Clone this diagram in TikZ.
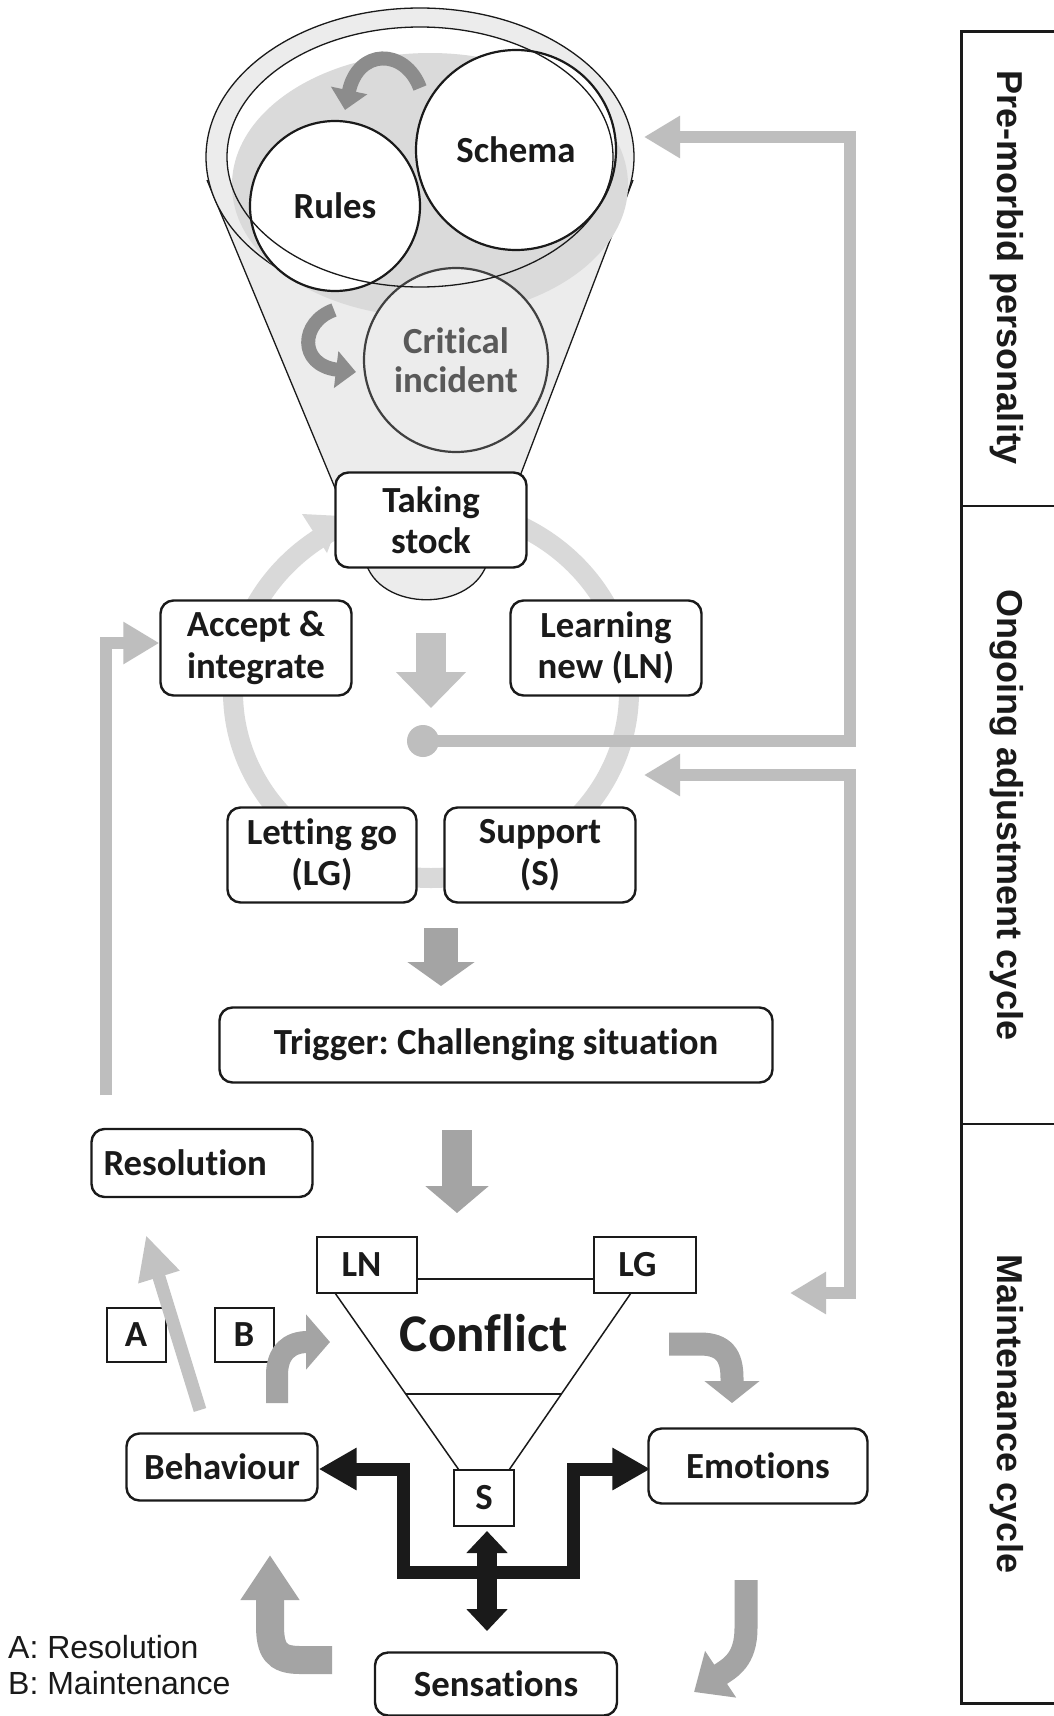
\documentclass[tikz,border=0pt]{standalone}
\usepackage{fontspec}
\setmainfont{Carlito}[Ligatures=NoCommon]
\newfontfamily\arialfont{Liberation Sans}
\usetikzlibrary{arrows.meta}
\definecolor{ink}{HTML}{1A1A1A}
\definecolor{ringgray}{HTML}{D9D9D9}
\definecolor{conngray}{HTML}{BEBEBE}
\definecolor{bodygray}{HTML}{ECECEC}
\definecolor{shadegray}{HTML}{DADADA}
\definecolor{midgray}{HTML}{A4A4A4}
\definecolor{lightarr}{HTML}{C2C2C2}
\definecolor{funarr}{HTML}{8C8C8C}
\definecolor{critgray}{HTML}{595959}
\definecolor{critline}{HTML}{404040}
\tikzset{
  conntip/.tip={Triangle[width=40pt,length=36pt]},
  blktip/.tip={Triangle[width=40pt,length=38pt]},
  dbltip/.tip={Triangle[width=40pt,length=22pt]}
}
\begin{document}
\begin{tikzpicture}[x=1pt,y=-1pt,
  txt/.style={text=ink,font=\frenchspacing\bfseries\fontsize{36.8}{41.5}\selectfont},
  box/.style={txt,draw=ink,line width=2.4pt,rounded corners=13pt,fill=white,align=center,inner sep=0pt},
  sqbox/.style={txt,draw=ink,line width=2pt,fill=white,inner sep=0pt},
  circ/.style={txt,circle,draw=ink,line width=2.2pt,fill=white,inner sep=0pt,align=center},
  conn/.style={draw=conngray,line width=12pt},
  blk/.style={draw=ink,line width=13pt},
  paneltxt/.style={text=ink,font=\arialfont\bfseries\fontsize{36}{40}\selectfont,rotate=-90},
  legend/.style={text=ink,font=\arialfont\fontsize{32}{36}\selectfont,anchor=west,inner sep=0pt}
]
\fill[white] (0,0) rectangle (1053,1716);
\useasboundingbox (0,0) rectangle (1053,1716);

% ---------- adjustment ring ----------
\draw[draw=ringgray,line width=20pt] (431,692) ellipse [x radius=198,y radius=186];
\fill[ringgray] (341,516) -- (327,553) -- (302,514) -- cycle;

% ---------- funnel ----------
\draw[fill=bodygray,draw=ink,line width=1.3pt] (207,180) -- (365,560) .. controls (378,613) and (475,613) .. (488,560) -- (633,180);
\draw[fill=bodygray,draw=ink,line width=1.3pt] (420,157) ellipse [x radius=214,y radius=149];
\fill[white] (420,157) ellipse [x radius=193,y radius=130];
\fill[shadegray] (430,185) ellipse [x radius=198,y radius=132];

\node[circ,minimum size=170pt] (rules) at (335,206) {Rules};
\node[circ,minimum size=200pt] (schema) at (516,150) {Schema};
\node[circ,minimum size=184pt,fill=bodygray,draw=critline,text=critgray,font=\bfseries\fontsize{36.8}{39.5}\selectfont] (crit) at (456,360) {Critical\\incident};
\draw[ink,line width=1.3pt] (420,157) ellipse [x radius=193,y radius=130];

\draw[draw=funarr,line width=14pt,-{Triangle[width=36pt,length=20pt]}] (420,88) .. controls (405,48) and (358,48) .. (345,110);
\draw[draw=funarr,line width=14pt,-{Triangle[width=36pt,length=20pt]}] (334,310) .. controls (300,322) and (298,365) .. (356,372);

% ---------- ongoing adjustment boxes ----------
\node[box,minimum width=191pt,minimum height=95pt] (ts) at (431,520) {Taking\\stock};
\node[box,minimum width=191pt,minimum height=95pt] (acc) at (256,648) {Accept \&\\integrate};
\node[box,minimum width=191pt,minimum height=95pt] (learn) at (606,648) {Learning\\new (LN)};
\node[box,minimum width=189pt,minimum height=95pt] (letgo) at (322,855) {Letting go\\(LG)};
\node[box,minimum width=191pt,minimum height=95pt] (supp) at (540,855) {Support\\(S)};
\node[box,minimum width=553pt,minimum height=75pt] (trig) at (496,1045) {Trigger: Challenging situation};
\node[box,minimum width=221pt,minimum height=68pt,text width=197pt,align=left] (res) at (202,1163) {Resolution};

% central arrows
\coordinate (a1s) at (431,633); \coordinate (a1e) at (431,708);
\draw[draw=lightarr,line width=30pt,-{Triangle[width=68pt,length=36pt]}] (a1s) -- (a1e);
\coordinate (a2s) at (441,928); \coordinate (a2e) at (441,986);
\draw[draw=midgray,line width=34pt,-{Triangle[width=66pt,length=24pt]}] (a2s) -- (a2e);
\coordinate (a3s) at (457,1130); \coordinate (a3e) at (457,1213);
\draw[draw=midgray,line width=30pt,-{Triangle[width=62pt,length=27pt]}] (a3s) -- (a3e);

% ---------- feedback connectors ----------
\node[circle,fill=conngray,minimum size=32pt,inner sep=0pt] (dot) at (423,741) {};
\coordinate (c1a) at (850,741); \coordinate (c1b) at (850,137); \coordinate (c1t) at (644,137);
\draw[conn,-conntip] (dot.center) -- (c1a) -- (c1b) -- (c1t);
\coordinate (c2t) at (644,775); \coordinate (c2a) at (850,775); \coordinate (c2b) at (850,1293); \coordinate (c2e) at (790,1293);
\draw[conn,conntip-conntip] (c2t) -- (c2a) -- (c2b) -- (c2e);
\coordinate (c3s) at (106,1095); \coordinate (c3a) at (106,643);
\draw[conn,-conntip] (c3s) -- (c3a) -- (acc.west |- c3a);

% ---------- conflict ----------
\node[sqbox,minimum width=100pt,minimum height=56pt] (ln) at (367,1265) {\hspace*{-11pt}LN};
\node[sqbox,minimum width=102pt,minimum height=56pt] (lg) at (645,1265) {\hspace*{-15pt}LG};
\node[sqbox,minimum width=60pt,minimum height=56pt] (s) at (484,1498) {S};
\coordinate (t1) at (335,1293); \coordinate (t2) at (459,1470);
\coordinate (t3) at (631,1293); \coordinate (t4) at (509,1470);
\draw[ink,line width=1.5pt] (t1) -- (t2) (t3) -- (t4);
\draw[ink,line width=1.5pt] (406,1394) -- (561,1394);
\draw[ink,line width=1.5pt] (ln.east |- 0,1279) -- (lg.west |- 0,1279);
\node[text=ink,font=\bfseries\fontsize{53}{60}\selectfont] (conf) at (484,1333) {Conflict};

\node[sqbox,minimum width=59pt,minimum height=54pt] (A) at (136,1335) {A};
\node[sqbox,minimum width=59pt,minimum height=54pt] (B) at (244,1335) {B};

% ---------- maintenance boxes ----------
\node[box,minimum width=191pt,minimum height=67pt] (beh) at (222,1467) {Behaviour};
\node[box,minimum width=219pt,minimum height=75pt] (emo) at (758,1466) {Emotions};
\node[box,minimum width=242pt,minimum height=63pt] (sens) at (496,1684) {Sensations};

% black arrows
\coordinate (bl1) at (403,1469); \coordinate (bl2) at (403,1572);
\coordinate (br2) at (573,1572); \coordinate (br1) at (573,1469);
\draw[blk,line join=miter,blktip-blktip] (beh.east |- bl1) -- (bl1) -- (bl2) -- (br2) -- (br1) -- ([xshift=3pt]emo.west |- br1);
\draw[blk,line width=20pt,dbltip-dbltip] ([yshift=-4pt]s.south -| 487,0) -- (487,1631);

% gray maintenance arrows
\draw[draw=lightarr,line width=13pt,-{Triangle[width=40pt,length=44pt]}] (200,1410) -- (146,1235);
\draw[draw=midgray,line width=22pt,-{Triangle[width=54pt,length=24pt]}] (277,1403) -- (277,1375) .. controls (277,1352) and (290,1342) .. (330,1342);
\draw[draw=midgray,line width=23pt,-{Triangle[width=54pt,length=22pt]}] (669,1344) -- (700,1344) .. controls (724,1344) and (732,1356) .. (732,1378) -- (732,1403);
\draw[draw=midgray,line width=23pt,-{Triangle[width=54pt,length=32pt]}] (746,1580) -- (746,1628) .. controls (746,1660) and (730,1668) .. (694,1692);
\draw[draw=midgray,line width=28pt,-{Triangle[width=56pt,length=45pt]}] (332,1660) -- (300,1660) .. controls (276,1660) and (270,1650) .. (270,1625) -- (270,1555);

% legend
\node[legend] (legA) at (8,1647) {A: Resolution};
\node[legend] (legB) at (8,1683) {B: Maintenance};

% ---------- side panel ----------
\draw[ink,line width=3pt] (1060,31) -- (961,31) -- (961,1703) -- (1060,1703);
\draw[ink,line width=2.5pt] (961,506) -- (1060,506) (961,1124) -- (1060,1124);
\node[paneltxt] (p1) at (1007,268) {Pre-morbid personality};
\node[paneltxt] (p2) at (1007,815) {Ongoing adjustment cycle};
\node[paneltxt] (p3) at (1007,1414) {Maintenance cycle};
\end{tikzpicture}
\end{document}
